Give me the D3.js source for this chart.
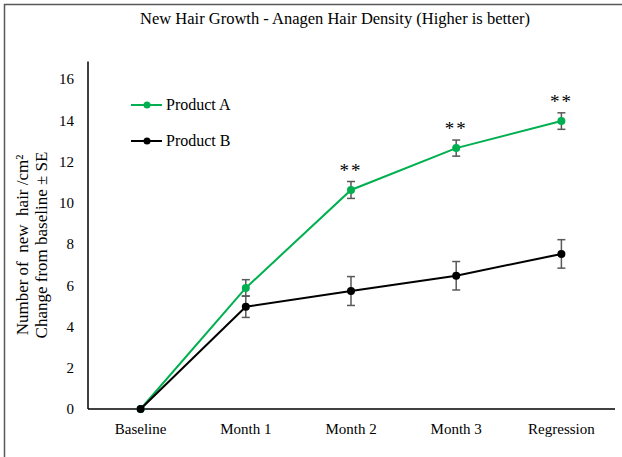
<!DOCTYPE html>
<html>
<head>
<meta charset="utf-8">
<script src="https://cdn.jsdelivr.net/npm/d3@7"></script>
<style>
  body { margin: 0; background: #fff; }
  svg { display: block; font-family: "Liberation Serif", "Times New Roman", serif; }
  svg text { font-family: "Liberation Serif", "Times New Roman", serif; }
</style>
</head>
<body>
<div id="vis"></div>
<script>
// chart data
var categories = ['Baseline', 'Month 1', 'Month 2', 'Month 3', 'Regression'];
var productA = [0, 5.87, 10.62, 12.65, 13.96];
var productAErr = [0, 0.4, 0.41, 0.39, 0.4];
var productB = [0, 4.96, 5.72, 6.46, 7.52];
var productBErr = [0, 0.52, 0.7, 0.69, 0.69];
var significant = ['Month 2', 'Month 3', 'Regression'];
var yTicks = [0, 2, 4, 6, 8, 10, 12, 14, 16];

var width = 622;
var height = 457;
var margin = { top: 79, left: 88, bottom: 48, right: 8 };

var series = [
  { name: 'Product A', values: productA, err: productAErr, color: '#00b050' },
  { name: 'Product B', values: productB, err: productBErr, color: '#000000' }
];

var svg = d3.select('#vis').append('svg')
  .attr('width', width)
  .attr('height', height);

// outer frame (left and top edges only visible)
svg.append('path')
  .attr('d', 'M4.5,' + height + 'V4.5H' + width)
  .attr('fill', 'none')
  .attr('stroke', '#595959')
  .attr('stroke-width', 1.5);

svg.append('text')
  .attr('x', 335)
  .attr('y', 24)
  .attr('text-anchor', 'middle')
  .style('font-size', '16.5px')
  .text('New Hair Growth - Anagen Hair Density (Higher is better)');

var x = d3.scaleBand()
  .domain(categories)
  .range([margin.left, width - margin.right]);

var y = d3.scaleLinear()
  .domain([0, 16])
  .range([409, margin.top]);

var cx = function (c) { return x(c) + x.bandwidth() / 2; };

// y axis
var yAxis = svg.append('g')
  .attr('transform', 'translate(' + margin.left + ',0)')
  .call(d3.axisLeft(y).tickValues(yTicks).tickSize(0).tickPadding(14))
  .attr('font-family', null).attr('font-size', 15);
yAxis.select('.domain').attr('stroke', '#000').attr('stroke-width', 1.5)
  .attr('d', 'M0,' + y(16.85) + 'V' + y(0));
yAxis.selectAll('text').attr('fill', '#000');

// x axis
var xAxis = svg.append('g')
  .attr('transform', 'translate(0,' + y(0) + ')')
  .call(d3.axisBottom(x).tickSize(0).tickPadding(14))
  .attr('font-family', null).attr('font-size', 15);
xAxis.select('.domain').attr('stroke', '#000').attr('stroke-width', 1.5)
  .attr('d', 'M' + margin.left + ',0H' + (width - margin.right + 1));
xAxis.selectAll('text').attr('fill', '#000');

// y axis title
var yTitle = svg.append('text')
  .attr('transform', 'translate(0,245) rotate(-90)')
  .attr('text-anchor', 'middle')
  .style('font-size', '17px');
yTitle.append('tspan').attr('x', 0).attr('y', 28).attr('xml:space', 'preserve')
  .text('Number of  new  hair /cm²');
yTitle.append('tspan').attr('x', 0).attr('y', 47)
  .text('Change from baseline ± SE');

var line = d3.line()
  .x(function (d, i) { return cx(categories[i]); })
  .y(function (d) { return y(d); });

series.forEach(function (s) {
  var g = svg.append('g').attr('class', 'series');

  g.append('path')
    .attr('d', line(s.values))
    .attr('fill', 'none')
    .attr('stroke', s.color)
    .attr('stroke-width', 2);

  // error bars
  var bars = g.selectAll('.err')
    .data(s.values.map(function (v, i) { return { c: categories[i], v: v, e: s.err[i] }; })
      .filter(function (d) { return d.e > 0; }))
    .enter().append('g').attr('class', 'err')
    .attr('stroke', '#595959').attr('stroke-width', 1.5);
  bars.append('line')
    .attr('x1', function (d) { return cx(d.c); })
    .attr('x2', function (d) { return cx(d.c); })
    .attr('y1', function (d) { return y(d.v + d.e); })
    .attr('y2', function (d) { return y(d.v - d.e); });
  [1, -1].forEach(function (sign) {
    bars.append('line')
      .attr('x1', function (d) { return cx(d.c) - 4; })
      .attr('x2', function (d) { return cx(d.c) + 4; })
      .attr('y1', function (d) { return y(d.v + sign * d.e); })
      .attr('y2', function (d) { return y(d.v + sign * d.e); });
  });

  g.selectAll('circle')
    .data(s.values)
    .enter().append('circle')
    .attr('cx', function (d, i) { return cx(categories[i]); })
    .attr('cy', function (d) { return y(d); })
    .attr('r', 4)
    .attr('fill', s.color);
});

// significance markers
svg.selectAll('.sig')
  .data(significant)
  .enter().append('text')
  .attr('class', 'sig')
  .attr('x', function (c) { return cx(c); })
  .attr('y', function (c) {
    var i = categories.indexOf(c);
    return y(productA[i] + productAErr[i]) - 5;
  })
  .attr('text-anchor', 'middle')
  .attr('letter-spacing', 2)
  .attr('fill', '#000')
  .style('font-size', '19px')
  .text('**');

// legend
var legend = svg.append('g').attr('transform', 'translate(131,105)');
series.forEach(function (s, i) {
  var row = legend.append('g').attr('transform', 'translate(0,' + (i * 36) + ')');
  row.append('line').attr('x1', 0).attr('x2', 31).attr('y1', 0).attr('y2', 0)
    .attr('stroke', s.color).attr('stroke-width', 2);
  row.append('circle').attr('cx', 16).attr('cy', 0).attr('r', 3.5).attr('fill', s.color);
  row.append('text').attr('x', 35).attr('y', 5).style('font-size', '16px').text(s.name);
});
</script>
</body>
</html>
